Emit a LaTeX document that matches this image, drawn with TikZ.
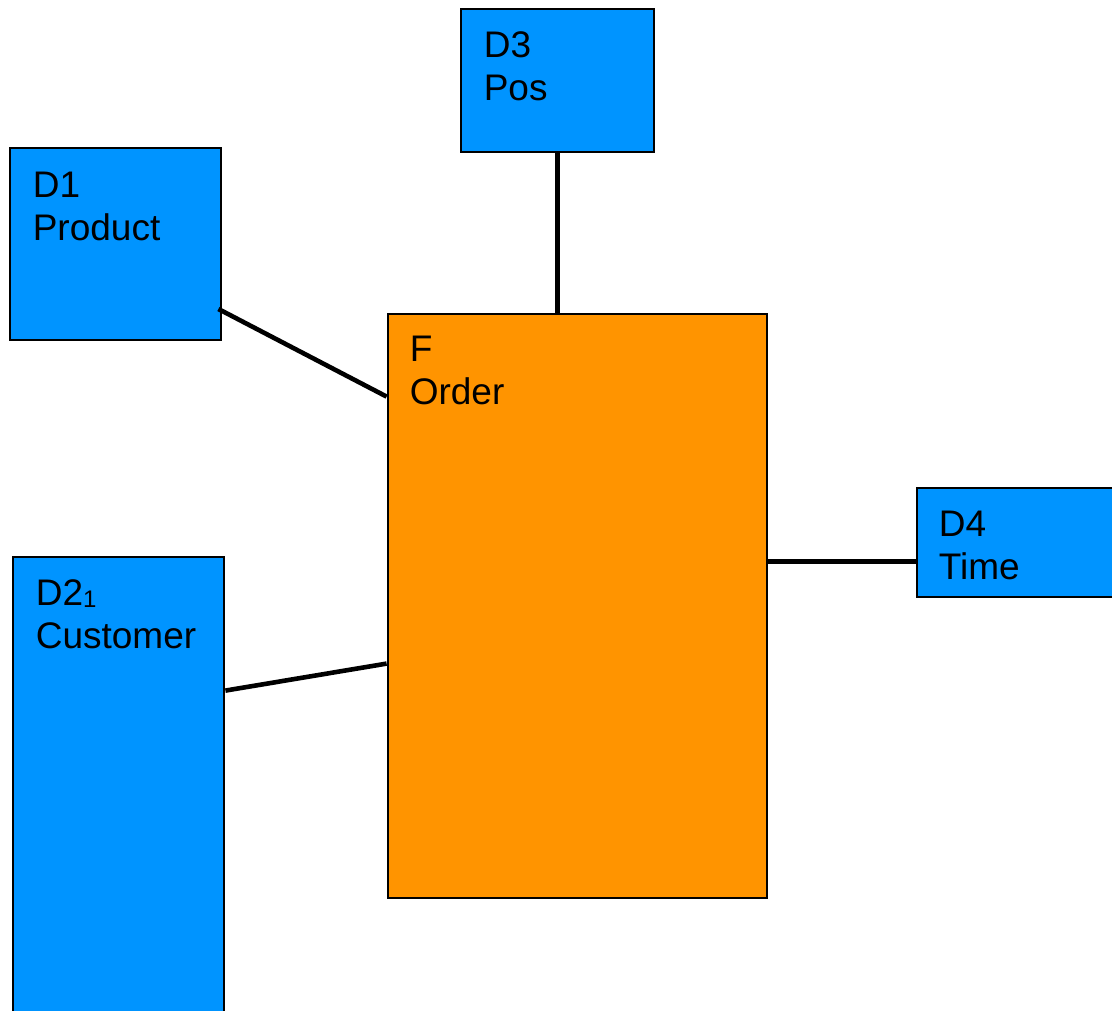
\documentclass[tikz,border=0pt]{standalone}
\usepackage{fontspec}
\setmainfont{Liberation Sans}
\definecolor{dimblue}{RGB}{0,148,255}
\definecolor{factorange}{RGB}{255,148,0}
\newcommand{\lowidx}[1]{\raisebox{-2pt}{\fontsize{24}{24}\selectfont #1}}
\begin{document}
\begin{tikzpicture}[x=1pt,y=-1pt,
  dimbox/.style={draw=black,line width=2.8pt,fill=dimblue,inner sep=0pt},
  factbox/.style={draw=black,line width=2.8pt,fill=factorange,inner sep=0pt},
  boxtext/.style={anchor=base west,align=left,inner sep=0pt,
    font=\fontsize{37}{43}\selectfont},
  link/.style={draw=black,line width=4.6pt}]
\useasboundingbox (0,0) rectangle (1112,1011);
\clip (0,0) rectangle (1112,1011);
% dimension and fact tables
\node[minimum width=193pt,minimum height=143pt,dimbox] (d3) at (557.5,80.5) {};
\node[minimum width=211pt,minimum height=192pt,dimbox] (d1) at (115.5,244) {};
\node[minimum width=211pt,minimum height=543pt,dimbox] (d2) at (118.5,828.5) {};
\node[minimum width=300pt,minimum height=109pt,dimbox] (d4) at (1067,542.5) {};
\node[minimum width=379pt,minimum height=584pt,factbox] (f) at (577.5,606) {};
% labels (base anchor sits on the second line)
\node[boxtext] (t3) at ([xshift=24pt,yshift=-93pt]d3.north west) {D3\\Pos};
\node[boxtext] (t1) at ([xshift=24pt,yshift=-94pt]d1.north west) {D1\\Product};
\node[boxtext] (t2) at ([xshift=24pt,yshift=-93pt]d2.north west) {D2\lowidx{1}\\Customer};
\node[boxtext] (t4) at ([xshift=23pt,yshift=-93pt]d4.north west) {D4\\Time};
\node[boxtext] (tf) at ([xshift=23pt,yshift=-92pt]f.north west) {F\\Order};
% connectors
\draw[link] (d3.south) -- (d3.south |- f.north);
\draw[link] ([xshift=-4pt,yshift=-65pt]d1.east) -- ([yshift=-84pt]f.north west);
\draw[link] ([yshift=-135pt]d2.north east) -- ([yshift=-351pt]f.north west);
\coordinate (fd4) at ([yshift=-249pt]f.north east);
\draw[link] (fd4) -- (fd4 -| d4.west);
\end{tikzpicture}
\end{document}
